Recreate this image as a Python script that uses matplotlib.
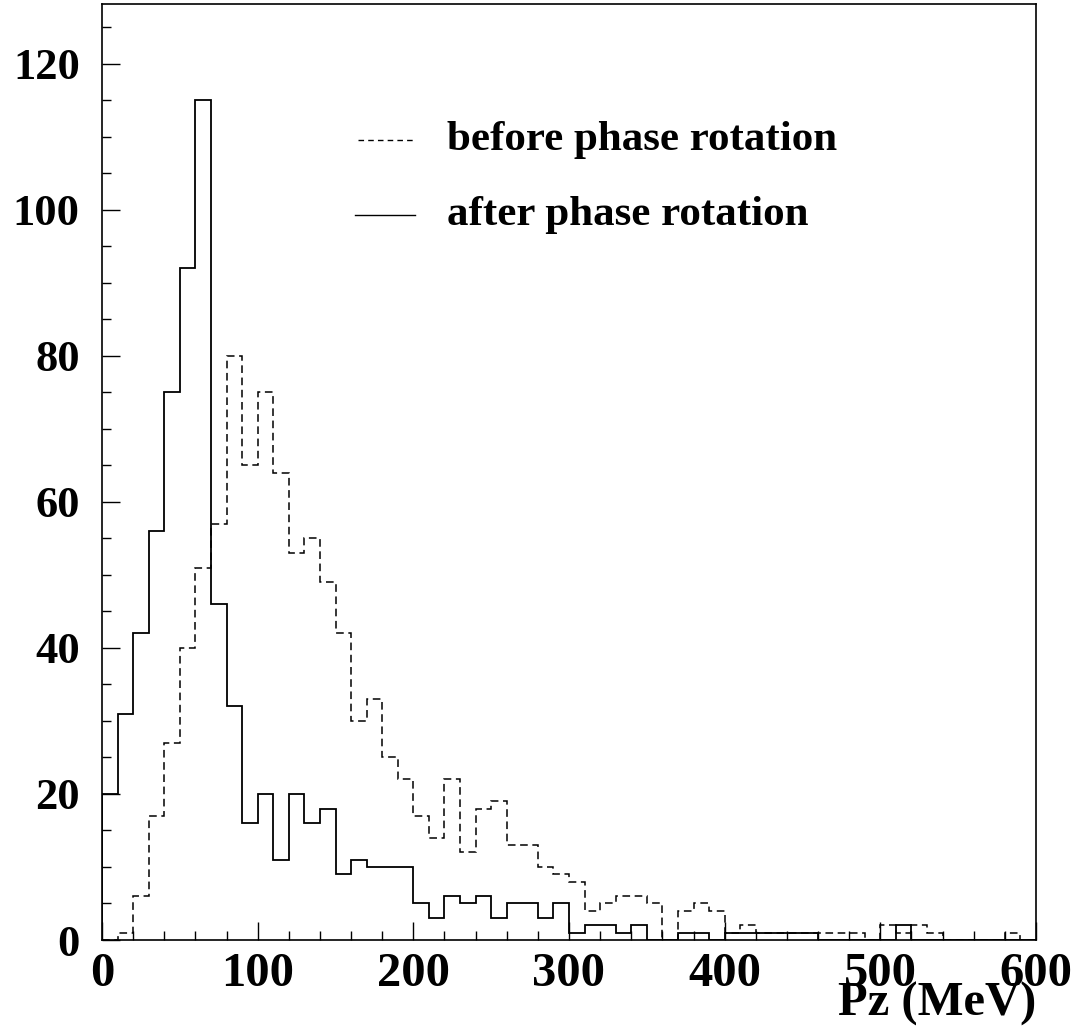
import numpy as np
import matplotlib
matplotlib.use('Agg')
import matplotlib.pyplot as plt
from matplotlib.ticker import MultipleLocator

plt.rcParams['font.family'] = 'Liberation Serif'
plt.rcParams['font.weight'] = 'bold'

# bins of 10 MeV from 0 to 600
bin_edges = np.arange(0, 610, 10)

# before phase rotation (dashed)
before_counts = [0, 1, 6, 17, 27, 40, 51, 57, 80, 65,
                 75, 64, 53, 55, 49, 42, 30, 33, 25, 22,
                 17, 14, 22, 12, 18, 19, 13, 13, 10, 9,
                 8, 4, 5, 6, 6, 5, 0, 4, 5, 4,
                 1, 2, 1, 1, 1, 1, 1, 1, 1, 0,
                 2, 1, 2, 1, 0, 0, 0, 0, 1, 0]

# after phase rotation (solid)
after_counts = [20, 31, 42, 56, 75, 92, 115, 46, 32, 16,
                20, 11, 20, 16, 18, 9, 11, 10, 10, 10,
                5, 3, 6, 5, 6, 3, 5, 5, 3, 5,
                1, 2, 2, 1, 2, 0, 0, 1, 1, 0,
                1, 1, 1, 1, 1, 1, 0, 0, 0, 0,
                0, 2, 0, 0, 0, 0, 0, 0, 0, 0]

legend_labels = ['before phase rotation', 'after phase rotation']

fig = plt.figure(figsize=(10.76, 10.28), dpi=100)
ax = fig.add_axes([102 / 1076, 1 - 940 / 1028, 934 / 1076, 936 / 1028])

ax.stairs(before_counts, bin_edges, color='black', linewidth=1.1,
          linestyle=(0, (5, 3)))
ax.stairs(after_counts, bin_edges, color='black', linewidth=1.3)

ax.set_xlim(0, 600)
ax.set_ylim(0, 128.2)

ax.xaxis.set_major_locator(MultipleLocator(100))
ax.xaxis.set_minor_locator(MultipleLocator(20))
ax.yaxis.set_major_locator(MultipleLocator(20))
ax.yaxis.set_minor_locator(MultipleLocator(5))
ax.tick_params(which='both', direction='in', top=False, right=False,
               width=1.0)
ax.tick_params(which='major', length=13)
ax.tick_params(which='minor', length=6.5)
ax.tick_params(axis='y', pad=16, labelsize=32)
ax.tick_params(axis='x', pad=9, labelsize=35)
for sp in ax.spines.values():
    sp.set_linewidth(1.2)

# legend drawn by hand, like the original
ax.plot([0.274, 0.335], [0.855, 0.855], transform=ax.transAxes,
        color='black', linewidth=1.0, linestyle=(0, (4, 3)))
ax.plot([0.271, 0.335], [0.775, 0.775], transform=ax.transAxes,
        color='black', linewidth=1.0)
ax.text(0.369, 0.855, legend_labels[0], transform=ax.transAxes,
        fontsize=31, fontweight='bold', va='center', ha='left')
ax.text(0.369, 0.775, legend_labels[1], transform=ax.transAxes,
        fontsize=31, fontweight='bold', va='center', ha='left')

fig.text(1036 / 1076, 1 - 1004 / 1028, 'Pz (MeV)', fontsize=35,
         fontweight='bold', ha='right', va='center')

fig.savefig('out.png', dpi=100)
